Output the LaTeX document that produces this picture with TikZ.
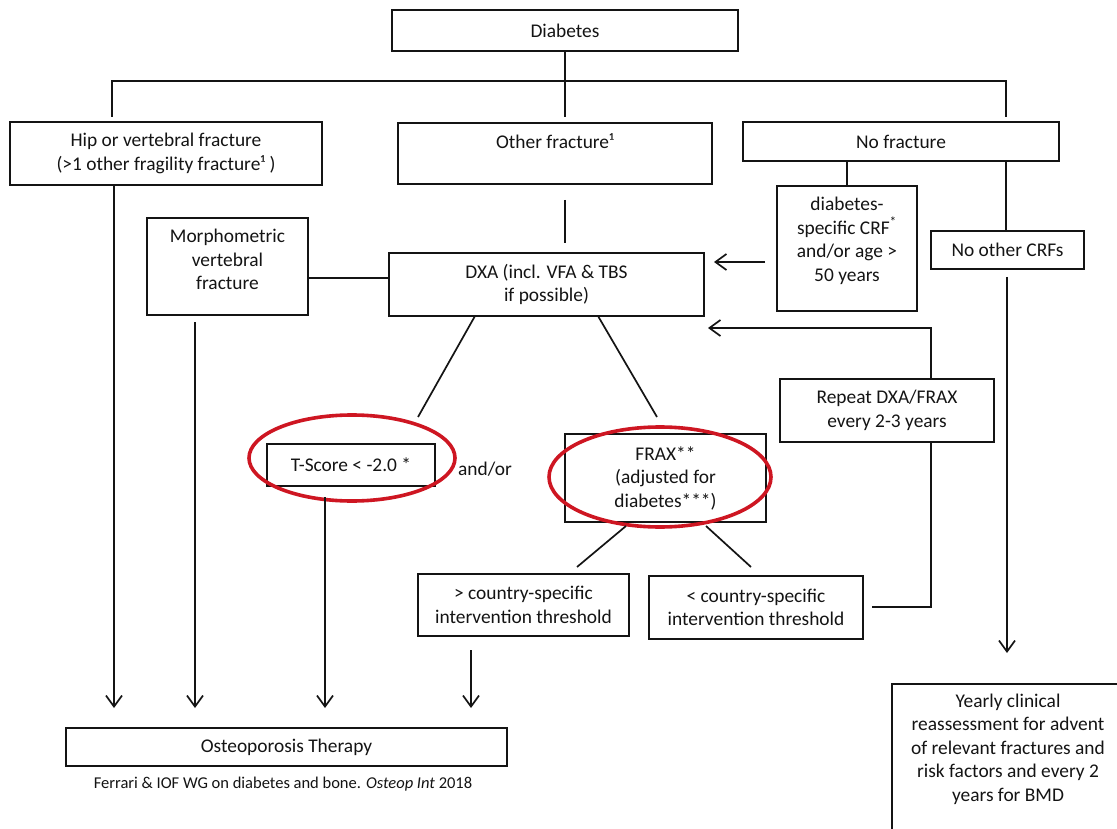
\documentclass[tikz,border=0pt]{standalone}
\usepackage{fontspec}
\setmainfont{Carlito}
\usetikzlibrary{arrows.meta}
\definecolor{ringred}{RGB}{206,22,34}
\definecolor{ink}{RGB}{20,20,20}
\begin{document}
\begin{tikzpicture}[x=1pt,y=-1pt,
  every node/.style={font=\fontsize{19.4}{23.5}\selectfont, text=ink},
  box/.style={draw=ink, line width=1.7pt, rectangle, inner sep=0pt, align=center},
  txt/.style={inner sep=0pt, align=center},
  conn/.style={draw=ink, line width=1.7pt},
  arr/.style={draw=ink, line width=1.7pt, -{Straight Barb[length=11pt,width=16pt]}},
  ring/.style={draw=ringred, line width=3.6pt}
]
\useasboundingbox (0,0) rectangle (1117,829);
\fill[white] (0,0) rectangle (1117,829);

% boxes
\node[box, minimum width=346, minimum height=41] (diab) at (565,30.5) {Diabetes};
\node[box, minimum width=312, minimum height=63] (hip) at (166,153.5) {Hip or vertebral fracture\\(>1 other fragility fracture¹ )};
\node[box, minimum width=314, minimum height=61] (other) at (555,153.5) {};
\node[txt] (otherT) at (555,141) {Other fracture¹};
\node[box, minimum width=316, minimum height=39] (nofr) at (901,141.5) {No fracture};
\node[box, minimum width=140, minimum height=125] (crf) at (847,248.5) {};
\node[txt] (crfT) at (847,241) {diabetes-\\specific CRF\textsuperscript{*}\\and/or age >\\50 years};
\node[box, minimum width=153, minimum height=38] (nocrf) at (1007.5,250) {No other CRFs};
\node[box, minimum width=161, minimum height=97] (morph) at (227.5,266.5) {};
\node[txt] (morphT) at (227.5,259.5) {Morphometric\\vertebral\\fracture};
\node[box, minimum width=315, minimum height=63] (dxa) at (546.5,284.5) {DXA (incl. VFA \& TBS\\if possible)};
\node[box, minimum width=214, minimum height=63] (rep) at (887,410.5) {Repeat DXA/FRAX\\every 2-3 years};
\node[box, minimum width=168, minimum height=42] (tsc) at (351,465) {T-Score < -2.0 *};
\node[box, minimum width=201, minimum height=88] (frax) at (665.5,478) {FRAX**\\(adjusted for\\diabetes***)};
\node[box, minimum width=211, minimum height=62] (gt) at (523.5,605) {> country-specific\\intervention threshold};
\node[box, minimum width=214, minimum height=63] (lt) at (756,607.5) {< country-specific\\intervention threshold};
\node[box, minimum width=441, minimum height=38] (osteo) at (286.5,747) {Osteoporosis Therapy};
\node[txt, font=\fontsize{16.5}{19}\selectfont] (cite) at (283,784) {Ferrari \& IOF WG on diabetes and bone. \textit{Osteop Int} 2018};
\node[txt] (andor) at (485,469) {and/or};
\node[txt] (yearly) at (1008,749) {Yearly clinical\\reassessment for advent\\of relevant fractures and\\risk factors and every 2\\years for BMD};
\draw[conn] (1117,684) -| (892,829);

% red rings
\draw[ring] (352,458) ellipse [x radius=103, y radius=43];
\draw[ring] (660,477) ellipse [x radius=111, y radius=50];

% coordinates for free ends
\coordinate (dA) at (565,117);
\coordinate (hL) at (112,81);
\coordinate (hR) at (1006,81);
\coordinate (hLb) at (112,117);
\coordinate (hRb) at (1006,117);
\coordinate (oA) at (565,200);
\coordinate (oB) at (565,243);
\coordinate (hipEnd) at (114,708);
\coordinate (morphTop) at (195,322);
\coordinate (morphEnd) at (195,708);
\coordinate (tscTop) at (325,497);
\coordinate (tscEnd) at (325,708);
\coordinate (gtTop) at (471,650);
\coordinate (gtEnd) at (471,708);
\coordinate (crfA) at (765,262);
\coordinate (crfB) at (714,262);
\coordinate (ncA) at (1007,277);
\coordinate (ncB) at (1007,653);
\coordinate (repTip) at (708,328);
\coordinate (ltA) at (872,607);
\coordinate (dxaL) at (475,316);
\coordinate (dxaR) at (598,316);
\coordinate (tscT) at (418,417);
\coordinate (fraxT) at (657,417);
\coordinate (fxL) at (626,526);
\coordinate (fxR) at (706,526);
\coordinate (gtT) at (577,567);
\coordinate (ltT) at (751,567);

% connectors
\draw[conn] (diab.south) -- (dA);
\draw[conn] (hLb) -- (hL) -- (hR) -- (hRb);
\draw[conn] (oA) -- (oB);
\draw[arr] (hip.south -| hipEnd) -- (hipEnd);
\draw[conn] (morph.east |- 0,278) -- (dxa.west |- 0,278);
\draw[arr] (morphTop) -- (morphEnd);
\draw[arr] (tscTop) -- (tscEnd);
\draw[arr] (gtTop) -- (gtEnd);
\draw[conn] (nofr.south -| crf.north) -- (crf.north);
\draw[conn] (nofr.south -| hRb) -- (nocrf.north -| hRb);
\draw[arr] (ncA) -- (ncB);
\draw[arr] (crfA) -- (crfB);
\draw[conn] (dxaL) -- (tscT);
\draw[conn] (dxaR) -- (fraxT);
\draw[conn] (fxL) -- (gtT);
\draw[conn] (fxR) -- (ltT);
\draw[conn] (ltA) -| (rep.south -| 931,0);
\draw[arr] (rep.north -| 931,0) |- (repTip);
\end{tikzpicture}
\end{document}
